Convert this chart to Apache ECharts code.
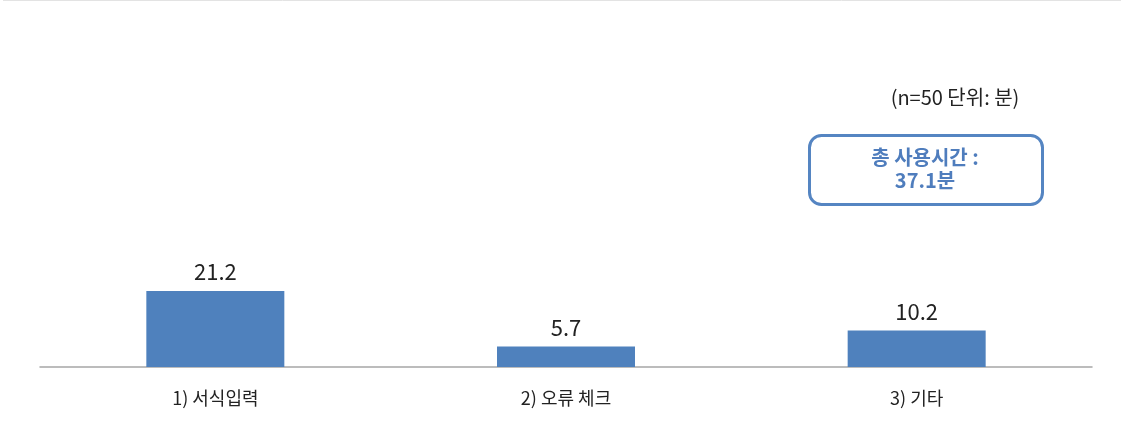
<!DOCTYPE html>
<html>
<head>
<meta charset="utf-8">
<script src="https://cdn.jsdelivr.net/npm/echarts@6/dist/echarts.min.js"></script>
<style>
  html, body { margin: 0; padding: 0; background: #fff; }
  #chart { width: 1121px; height: 423px; }
</style>
</head>
<body>
<div id="chart"></div>
<script>
// 카테고리와 값
const categories = ['1) 서식입력', '2) 오류 체크', '3) 기타'];
const minutes = [21.2, 5.7, 10.2];
const noteText = '(n=50 단위: 분)';
const totalText = '총 사용시간 :\n37.1분';

const font = '"Noto Sans CJK KR", "Noto Sans", sans-serif';

let myChart = echarts.init(document.getElementById('chart'));
let option = {
  backgroundColor: '#fff',
  textStyle: { fontFamily: font },
  grid: { left: 40, right: 29, top: 9, bottom: 56 },
  xAxis: {
    type: 'category',
    data: categories,
    axisLine: { lineStyle: { color: '#a6a6a6', width: 1.5 } },
    axisTick: { show: false },
    axisLabel: { color: '#222', fontSize: 18, margin: 22, fontFamily: font }
  },
  yAxis: {
    type: 'value',
    min: 0,
    max: 100,
    show: false
  },
  graphic: [
    // 상단 테두리 선
    { type: 'line', shape: { x1: 3, y1: 0.5, x2: 1121, y2: 0.5 }, style: { stroke: '#e3e3e3', lineWidth: 1 } },
    {
      type: 'text', x: 955, y: 97,
      style: { text: noteText, fill: '#222', font: '20px ' + font, align: 'center', verticalAlign: 'middle' }
    },
    {
      type: 'rect', left: 808, top: 134,
      shape: { width: 233, height: 69, r: 12 },
      style: { fill: '#fff', stroke: '#5585c2', lineWidth: 3 }
    },
    {
      type: 'text', x: 925, y: 169,
      style: {
        text: totalText, fill: '#4f7dbd', align: 'center', verticalAlign: 'middle',
        font: 'bold 20px ' + font, lineHeight: 23
      }
    }
  ],
  series: [
    {
      type: 'bar',
      data: minutes,
      barWidth: 138,
      itemStyle: { color: '#4f81bd' },
      label: {
        show: true,
        position: 'top',
        distance: 8,
        color: '#222',
        fontSize: 22,
        fontFamily: font
      }
    }
  ]
};
myChart.setOption(option);
</script>
</body>
</html>
